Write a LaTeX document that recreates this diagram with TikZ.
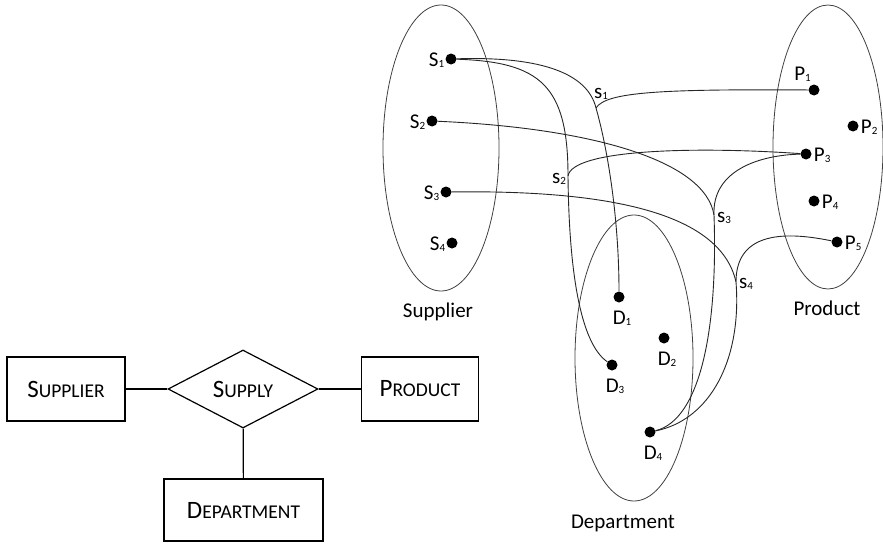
\documentclass[tikz,border=0pt]{standalone}
\usepackage{fontspec}
\setmainfont{Carlito}
\usetikzlibrary{positioning,shapes.geometric}
\newcommand{\subidx}[1]{\raisebox{-1.5pt}{\fontsize{11}{11}\selectfont #1}}
\newcommand{\fakesc}[2]{{\fontsize{25}{27}\selectfont #1}{\fontsize{19.5}{21}\selectfont #2}}
\tikzset{
  dot/.style={circle,fill=black,inner sep=0pt,minimum size=11pt},
  set/.style={ellipse,draw=black!75,line width=0.8pt,inner sep=0pt},
  ent/.style={draw,line width=1.2pt,minimum width=118pt,minimum height=64pt,inner sep=0pt},
  rel/.style={diamond,draw,line width=1.2pt,minimum width=150pt,minimum height=78pt,
              inner sep=0pt,aspect=1.9},
  conn/.style={line width=1.2pt},
  link/.style={draw=black!85,line width=0.9pt},
  lbl/.style={inner sep=0pt,font=\fontsize{21}{23}\selectfont}
}

\begin{document}
\begin{tikzpicture}[x=1pt,y=-1pt]
  \useasboundingbox (0,0) rectangle (883,546);
  % E-R diagram
  \node[ent] (supplier) at (66,389) {\fakesc{S}{UPPLIER}};
  \node[rel] (supply) at (243,389) {\fakesc{S}{UPPLY}};
  \node[ent,minimum width=117pt] (product) at (420,389) {\fakesc{P}{RODUCT}};
  \node[ent,minimum width=159pt,minimum height=62pt] (department) at (243.5,510) {\fakesc{D}{EPARTMENT}};
  \draw[conn] (supplier) -- (supply);
  \draw[conn] (supply) -- (product);
  \draw[conn] (supply) -- (department);

  % the three sets
  \node[set,minimum width=116pt,minimum height=286pt] (supset) at (441,148) {};
  \node[set,minimum width=110pt,minimum height=284pt] (prodset) at (828,147) {};
  \node[set,minimum width=118pt,minimum height=286pt] (depset) at (634,358) {};
  \node[lbl,anchor=base] (suplbl) at (438,317) {Supplier};
  \node[lbl,anchor=base] (prodlbl) at (827,315) {Product};
  \node[lbl,anchor=base] (deplbl) at (623,528) {Department};

  % elements
  \foreach \n/\x/\y in {1/451/59,2/432/121,3/446/192,4/452/243}{
    \node[dot] (sup\n) at (\x,\y) {};
    \node[lbl,anchor=base east,xshift=-1pt,yshift=-7pt] (supl\n) at (sup\n.west) {S\subidx{\n}};
  }
  \node[dot] (prod1) at (814,90) {};
  \node[lbl,anchor=base east,xshift=-3pt,yshift=10pt] (prodl1) at (prod1) {P\subidx{1}};
  \foreach \n/\x/\y in {2/853/126,3/806/154,4/814/201,5/837/242}{
    \node[dot] (prod\n) at (\x,\y) {};
    \node[lbl,anchor=base west,xshift=2pt,yshift=-7pt] (prodl\n) at (prod\n.east) {P\subidx{\n}};
  }
  \foreach \n/\x/\y in {1/619/297,2/664/338,3/612/365,4/650/432}{
    \node[dot] (dep\n) at (\x,\y) {};
    \node[lbl,anchor=base,xshift=3pt,yshift=-27pt] (depl\n) at (dep\n) {D\subidx{\n}};
  }

  % tuples of the relationship
  \coordinate (j1) at (596,108);
  \coordinate (j2) at (568,176);
  \coordinate (j3) at (714,215);
  \coordinate (j4) at (736,282);
  \draw[link] (sup1) .. controls (545,56) and (588,75) .. (j1) .. controls (608,150) and (619,220) .. (dep1);
  \draw[link] (j1) .. controls (606,92) and (660,89) .. (prod1);
  \draw[link] (sup1) .. controls (540,62) and (568,85) .. (j2) .. controls (569,270) and (580,343) .. (dep3);
  \draw[link] (j2) .. controls (572,150) and (690,146) .. (prod3);
  \draw[link] (sup2) .. controls (590,128) and (705,160) .. (j3) .. controls (718,330) and (700,420) .. (dep4);
  \draw[link] (j3) .. controls (712,170) and (760,155) .. (prod3);
  \draw[link] (sup3) .. controls (600,190) and (720,210) .. (j4) .. controls (742,360) and (710,420) .. (dep4);
  \draw[link] (j4) .. controls (736,240) and (770,228) .. (prod5);
  \node[lbl,anchor=base west] (tup1) at (594,98) {s\subidx{1}};
  \node[lbl,anchor=base west] (tup2) at (552,183) {s\subidx{2}};
  \node[lbl,anchor=base west] (tup3) at (717,222) {s\subidx{3}};
  \node[lbl,anchor=base west] (tup4) at (739,288) {s\subidx{4}};
\end{tikzpicture}
\end{document}
